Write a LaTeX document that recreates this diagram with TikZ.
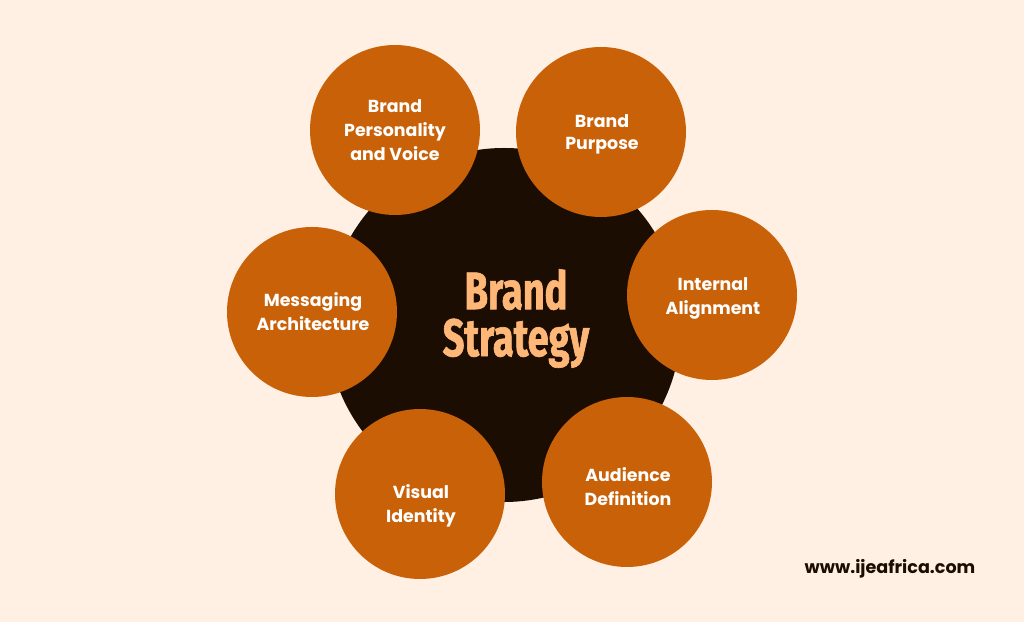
\documentclass[tikz,border=0pt]{standalone}
\usepackage{fontspec}
\setmainfont{Poppins}
\newfontfamily\titlefont[FakeStretch=0.72,BoldFeatures={FakeBold=1.2}]{Fira Sans}
\definecolor{pagebg}{HTML}{FFF0E3}
\definecolor{petal}{HTML}{C86108}
\definecolor{hub}{HTML}{1C0D02}
\definecolor{hubtext}{HTML}{FFB777}
\tikzset{
    petalnode/.style={circle, fill=petal, minimum size=3.4cm, inner sep=0pt},
    petaltext/.style={align=center, text=white, font=\fontsize{9.9}{13.7}\selectfont\bfseries},
    hubnode/.style={circle, fill=hub, minimum size=7.08cm, inner sep=0pt},
    titlenode/.style={align=center, text=hubtext, font=\titlefont\fontsize{30}{26.7}\selectfont\bfseries}
}
\begin{document}
\begin{tikzpicture}
        % Background of the page
        \fill[pagebg] (0,0) rectangle (20.48,12.44);
        \useasboundingbox (0,0) rectangle (20.48,12.44);

        % Draw the central circle
        \node[hubnode] (hubcircle) at (10.08,5.94) {};
        \node[titlenode] (strategy) at (10.32,6.07) {Brand\\Strategy};

        % Draw the six circles around it
        \node[petalnode] (personality) at (7.90,9.84) {};
        \node[petalnode] (purpose) at (12.02,9.80) {};
        \node[petalnode] (alignment) at (14.24,6.54) {};
        \node[petalnode] (audience) at (12.54,2.80) {};
        \node[petalnode] (identity) at (8.40,2.56) {};
        \node[petalnode] (messaging) at (6.24,6.20) {};

        % Label the circles
        \node[petaltext] (personalitytext) at (7.90,9.84) {Brand\\Personality\\and Voice};
        \node[petaltext] (purposetext) at (12.04,9.76) {Brand\\[-1.1pt]Purpose};
        \node[petaltext] (alignmenttext) at (14.26,6.48) {Internal\\Alignment};
        \node[petaltext] (audiencetext) at (12.56,2.70) {Audience\\Definition};
        \node[petaltext] (identitytext) at (8.42,2.33) {Visual\\Identity};
        \node[petaltext] (messagingtext) at (6.26,6.20) {Messaging\\Architecture};

        % Add the web address
        \node[text=hub, font=\fontsize{10}{12}\selectfont\bfseries] (website) at (17.80,1.06) {www.ijeafrica.com};

    \end{tikzpicture}
\end{document}
